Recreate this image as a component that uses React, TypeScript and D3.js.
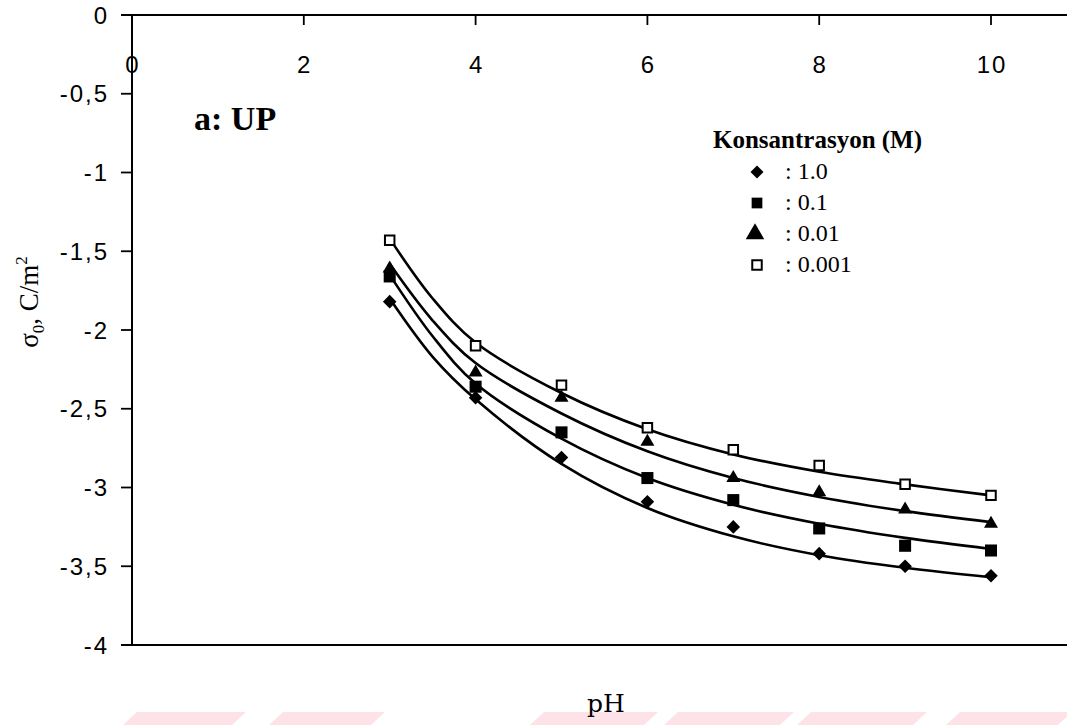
import * as d3 from "d3";
import { useEffect, useRef } from "react";

const width = 1067;
const height = 725;

const phValues = [3, 4, 5, 6, 7, 8, 9, 10];
const fitPh = [3, 3.5, 4, 5, 6, 7, 8, 9, 10];
const concLabels = [": 1.0", ": 0.1", ": 0.01", ": 0.001"];
const symbolKinds = ["diamond", "square", "triangle", "open"];

// measured charge density (markers)
const sigma1 = [-1.82, -2.43, -2.81, -3.09, -3.25, -3.42, -3.5, -3.56];
const sigma01 = [-1.66, -2.36, -2.65, -2.94, -3.08, -3.26, -3.37, -3.4];
const sigma001 = [-1.61, -2.27, -2.43, -2.71, -2.94, -3.03, -3.14, -3.23];
const sigma0001 = [-1.43, -2.1, -2.35, -2.62, -2.76, -2.86, -2.98, -3.05];

// fitted curves at fitPh
const fit1 = [-1.8, -2.17, -2.44, -2.85, -3.13, -3.31, -3.43, -3.51, -3.57];
const fit01 = [-1.65, -2.04, -2.34, -2.69, -2.94, -3.11, -3.23, -3.32, -3.39];
const fit001 = [-1.58, -1.94, -2.21, -2.53, -2.77, -2.94, -3.06, -3.15, -3.22];
const fit0001 = [-1.42, -1.8, -2.08, -2.4, -2.63, -2.79, -2.9, -2.98, -3.05];

const xTicks = [0, 2, 4, 6, 8, 10];
const yTicks = [0, -0.5, -1, -1.5, -2, -2.5, -3, -3.5, -4];

// faint watermark strips along the bottom edge (page x, left/right)
const stripes = [
  [123, 232],
  [269, 371],
  [530, 644],
  [664, 780],
  [797, 913],
  [946, 1058],
];

const tickFont = "'Liberation Sans', Arial, sans-serif";
const serif = "'Liberation Serif', 'Times New Roman', serif";

function drawSymbol(g, kind, x, y, big) {
  if (kind === "diamond") {
    g.append("path")
      .attr("d", d3.symbol(d3.symbolSquare, big ? 85 : 92)())
      .attr("transform", `translate(${x},${y}) rotate(45)`)
      .attr("fill", "#000");
  } else if (kind === "square") {
    g.append("path")
      .attr("d", d3.symbol(d3.symbolSquare, big ? 115 : 145)())
      .attr("transform", `translate(${x},${y})`)
      .attr("fill", "#000");
  } else if (kind === "triangle") {
    g.append("path")
      .attr("d", d3.symbol(d3.symbolTriangle, big ? 150 : 85)())
      .attr("transform", `translate(${x},${y})`)
      .attr("fill", "#000");
  } else {
    g.append("path")
      .attr("d", d3.symbol(d3.symbolSquare, 90)())
      .attr("transform", `translate(${x},${y})`)
      .attr("fill", "#fff")
      .attr("stroke", "#000")
      .attr("stroke-width", 2);
  }
}

export default function App() {
  const svgRef = useRef<SVGSVGElement>(null);

  useEffect(() => {
    const svg = d3.select(svgRef.current);
    svg.selectAll("*").remove();

    const xScale = d3.scaleLinear().domain([0, 10]).range([132, 991]);
    const yScale = d3.scaleLinear().domain([-4, 0]).range([645, 15]);

    svg.append("rect").attr("width", width).attr("height", height).attr("fill", "#fff");

    // watermark
    svg.append("g")
      .selectAll("path")
      .data(stripes)
      .join("path")
      .attr("d", (d) => `M${d[0] + 14},712 L${d[1] + 14},712 L${d[1]},725 L${d[0]},725 Z`)
      .attr("fill", "#fde3e7");

    const axisColor = "#000";

    // top axis (y = 0)
    svg.append("line")
      .attr("x1", 121)
      .attr("x2", width)
      .attr("y1", yScale(0))
      .attr("y2", yScale(0))
      .attr("stroke", axisColor)
      .attr("stroke-width", 2.2);

    // bottom line (y = -4)
    svg.append("line")
      .attr("x1", 121)
      .attr("x2", width)
      .attr("y1", yScale(-4))
      .attr("y2", yScale(-4))
      .attr("stroke", axisColor)
      .attr("stroke-width", 2.2);

    // left axis
    svg.append("line")
      .attr("x1", xScale(0))
      .attr("x2", xScale(0))
      .attr("y1", yScale(0))
      .attr("y2", yScale(-4))
      .attr("stroke", axisColor)
      .attr("stroke-width", 2);

    const xt = svg.append("g");
    xt.selectAll("line")
      .data(xTicks)
      .join("line")
      .attr("x1", (d) => xScale(d))
      .attr("x2", (d) => xScale(d))
      .attr("y1", yScale(0))
      .attr("y2", yScale(0) + 10)
      .attr("stroke", axisColor)
      .attr("stroke-width", 1.8);
    xt.selectAll("text")
      .data(xTicks)
      .join("text")
      .attr("x", (d) => xScale(d) + 1)
      .attr("y", 73)
      .attr("text-anchor", "middle")
      .style("font-family", tickFont)
      .style("font-size", "24px")
      .style("letter-spacing", "2px")
      .text((d) => `${d}`);

    const yt = svg.append("g");
    yt.selectAll("line")
      .data(yTicks)
      .join("line")
      .attr("x1", 121)
      .attr("x2", xScale(0))
      .attr("y1", (d) => yScale(d))
      .attr("y2", (d) => yScale(d))
      .attr("stroke", axisColor)
      .attr("stroke-width", 1.8);
    yt.selectAll("text")
      .data(yTicks)
      .join("text")
      .attr("x", 109)
      .attr("y", (d) => yScale(d))
      .attr("dy", "0.36em")
      .attr("text-anchor", "end")
      .style("font-family", tickFont)
      .style("font-size", "24px")
      .style("letter-spacing", "2px")
      .text((d) => (d === 0 ? "0" : `${d}`.replace(".", ",")));

    // axis titles
    const yLabel = svg.append("text")
      .attr("transform", "translate(38, 302) rotate(-90)")
      .attr("text-anchor", "middle")
      .style("font-family", serif)
      .style("font-size", "27px");
    yLabel.append("tspan").text("σ");
    yLabel.append("tspan").attr("dy", 6).style("font-size", "17px").text("0");
    yLabel.append("tspan").attr("dy", -6).text(", C/m");
    yLabel.append("tspan").attr("dy", -11).style("font-size", "17px").text("2");

    svg.append("text")
      .attr("x", 606)
      .attr("y", 712)
      .attr("text-anchor", "middle")
      .style("font-family", "'DejaVu Serif', serif")
      .style("font-size", "25px")
      .text("pH");

    svg.append("text")
      .attr("x", 194)
      .attr("y", 130)
      .style("font-family", serif)
      .style("font-weight", "bold")
      .style("font-size", "34px")
      .text("a: UP");

    // fitted curves
    const line = d3
      .line<number>()
      .x((_, i) => xScale(fitPh[i]))
      .y((d) => yScale(d))
      .curve(d3.curveCatmullRom.alpha(0.5));

    const curves = svg.append("g");
    [fit1, fit01, fit001, fit0001].forEach((fit) => {
      curves.append("path")
        .attr("d", line(fit))
        .attr("fill", "none")
        .attr("stroke", "#000")
        .attr("stroke-width", 2.6);
    });

    // markers
    const markers = svg.append("g");
    [sigma1, sigma01, sigma001, sigma0001].forEach((series, s) => {
      series.forEach((v, i) => {
        drawSymbol(markers, symbolKinds[s], xScale(phValues[i]), yScale(v), false);
      });
    });

    // legend
    const legend = svg.append("g");
    legend.append("text")
      .attr("x", 713)
      .attr("y", 148)
      .style("font-family", serif)
      .style("font-weight", "bold")
      .style("font-size", "25px")
      .text("Konsantrasyon (M)");

    const rowY = d3.scalePoint<number>().domain([0, 1, 2, 3]).range([172, 265]);
    concLabels.forEach((label, i) => {
      drawSymbol(legend, symbolKinds[i], i === 2 ? 755 : 757, rowY(i) as number, true);
      legend.append("text")
        .attr("x", 785)
        .attr("y", (rowY(i) as number) + 7)
        .style("font-family", serif)
        .style("font-size", "24px")
        .text(label);
    });
  }, []);

  return (
    <svg
      ref={svgRef}
      width={width}
      height={height}
      style={{ position: "absolute", left: 0, top: 0 }}
    ></svg>
  );
}
